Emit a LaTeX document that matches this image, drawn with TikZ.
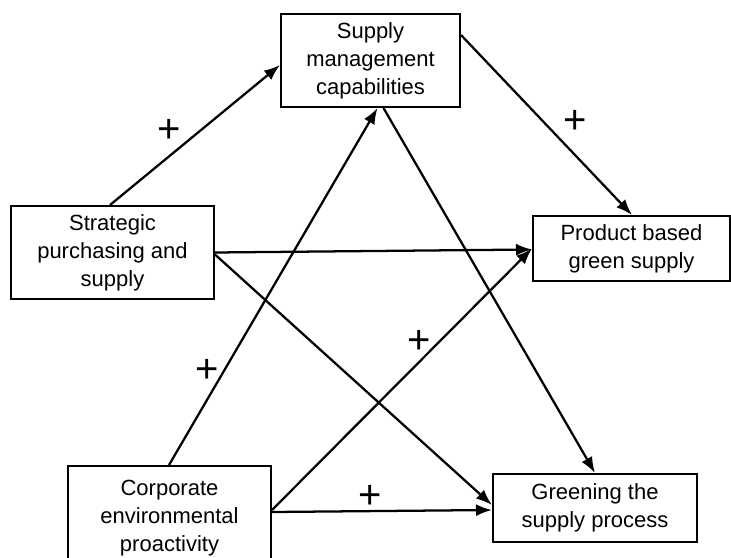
\documentclass[tikz,border=0pt]{standalone}
\usepackage{fontspec}
\setmainfont{Liberation Sans}
\usetikzlibrary{calc,arrows.meta}
\begin{document}
\begin{tikzpicture}[x=0.75pt,y=-0.75pt,
  box/.style={draw,line width=1.5pt,align=center,inner sep=0pt,
    font=\fontsize{16.5}{21}\selectfont},
  link/.style={line width=1.7pt,-{Latex[length=12pt,width=9pt]}},
  plus/.style={font=\fontsize{30}{30}\selectfont,inner sep=0pt}]
\useasboundingbox (0,0) rectangle (731,557);
% boxes
\node[box,minimum width=179*0.75pt,minimum height=93*0.75pt] (smc) at (370.5,60.5)
  {Supply\\management\\capabilities};
\node[box,minimum width=203*0.75pt,minimum height=93*0.75pt] (strat) at (112.5,252.5)
  {Strategic\\purchasing and\\supply};
\node[box,minimum width=197*0.75pt,minimum height=65*0.75pt] (prod) at (631.5,248.5)
  {Product based\\green supply};
\node[box,minimum width=203*0.75pt,minimum height=104*0.75pt] (corp) at (169.5,518)
  {Corporate\\environmental\\proactivity};
\node[box,minimum width=204*0.75pt,minimum height=68*0.75pt] (green) at (595,508)
  {Greening the\\supply process};
% connectors
\draw[link] ($(strat.north west)+(100,0)$) -- ($(smc.north west)+(0,52)$);
\draw[link] ($(smc.north east)+(0,22)$) -- ($(prod.north west)+(100,0)$);
\draw[link] (strat.east) -- ($(prod.west)+(0,1)$);
\draw[link] ($(strat.east)+(0,2)$) -- ($(green.west)+(0,-3)$);
\draw[link] ($(smc.south)+(13,0)$) -- (green.north);
\draw[link] ($(corp.north west)+(102,0)$) -- ($(smc.south)+(7,0)$);
\draw[link] ($(corp.east)+(0,-8)$) -- (prod.west);
\draw[link] ($(corp.east)+(0,-6)$) -- ($(green.west)+(0,2)$);
% signs
\node[plus] (p1) at (169,131) {+};
\node[plus] (p2) at (575,122) {+};
\node[plus] (p3) at (207,371) {+};
\node[plus] (p4) at (419,342) {+};
\node[plus] (p5) at (370,497) {+};
\end{tikzpicture}
\end{document}
